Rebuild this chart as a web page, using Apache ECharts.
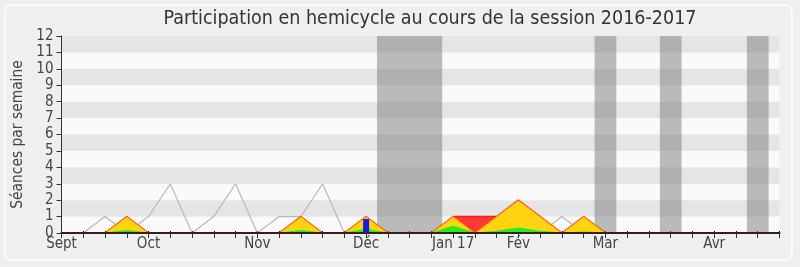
<!DOCTYPE html>
<html><head><meta charset="utf-8">
<script src="https://cdn.jsdelivr.net/npm/echarts@6/dist/echarts.min.js"></script>
<style>html,body{margin:0;padding:0;background:#efefef;}#c{width:800px;height:267px;}</style>
</head><body><div id="c"></div>
<script>
// weeks index 0..33 (Sept .. end of April)
const weeks = Array.from({length:34}, (_, i) => i);
const monthLabels = {0:'Sept',4:'Oct',9:'Nov',14:'Déc',18:'Jan 17',21:'Fév',25:'Mar',30:'Avr'};
const grayLine = [0,0,1,0,1,3,0,1,3,0,1,1,3,0,0,0,0,0,0,0,0,0,0,1,0,0,0,0,0,0,0,0,0,0];
const redArea  = [0,0,0,1,0,0,0,0,0,0,0,1,0,0,1,0,0,0,1,1,1,2,1,0,1,0,0,0,0,0,0,0,0,0];
const yellowArea=[0,0,0,1,0,0,0,0,0,0,0,1,0,0,1,0,0,0,1,0,1,2,1,0,1,0,0,0,0,0,0,0,0,0];
const greenArea= [0,0,0,0.15,0,0,0,0,0,0,0,0.15,0,0,0.22,0,0,0,0.4,0,0.1,0.3,0.1,0,0.05,0,0,0,0,0,0,0,0,0];
const blueBars = [[14,0.85]];
const vacations = [[14.5,17.5],[24.5,25.5],[27.5,28.5],[31.5,32.5]];

const pairs = arr => arr.map((v,i)=>[weeks[i],v]);
const FONT = 'DejaVu Sans Condensed, DejaVu Sans';
const chart = echarts.init(document.getElementById('c'), null, {renderer:'canvas'});
chart.setOption({
  animation:false,
  backgroundColor:'#efefef',
  graphic:[{type:'rect',shape:{x:5,y:5,width:787,height:255,r:7},style:{fill:'none',stroke:'#fbfbfb',lineWidth:2},z:-10}],
  title:{text:'Participation en hemicycle au cours de la session 2016-2017',left:425,top:4,textAlign:'center',
    textStyle:{fontFamily:FONT,fontSize:19.5,fontWeight:'normal',color:'#333'}},
  grid:{left:61.5,right:20.5,top:36,bottom:34},
  xAxis:[{type:'value',min:0,max:33,interval:1,z:10,
    axisLine:{show:true,onZero:false,lineStyle:{color:'#3a1c1c',width:2}},
    axisTick:{show:true,length:5,lineStyle:{color:'#333'}},
    axisLabel:{formatter:v=>monthLabels[v]||'',fontFamily:FONT,fontSize:15,color:'#444',margin:4},
    splitLine:{show:false}},
    {type:'value',position:'top',min:0,max:33,interval:1,axisLine:{show:false},
     axisTick:{show:true,length:2,lineStyle:{color:'#000'}},axisLabel:{show:false},splitLine:{show:false}}],
  yAxis:{type:'value',min:0,max:12,interval:1,name:'Séances par semaine',nameLocation:'middle',nameGap:36,
    nameTextStyle:{fontFamily:FONT,fontSize:15.4,color:'#444'},
    axisLine:{show:true,lineStyle:{color:'#333'}},
    axisTick:{show:true,length:5,lineStyle:{color:'#333'}},
    axisLabel:{fontFamily:FONT,fontSize:15,color:'#444',margin:8},
    splitLine:{show:false},
    splitArea:{show:true,areaStyle:{color:['#fafafa','#e5e5e5']}}},
  series:[
    {type:'line',data:[],z:1,silent:true,markArea:{silent:true,itemStyle:{color:'rgba(120,120,120,0.49)'},
      data:vacations.map(v=>[{xAxis:v[0],yAxis:0},{xAxis:v[1],yAxis:12}])}},
    {type:'line',data:pairs(grayLine),z:2,symbol:'none',lineStyle:{color:'#b8b8b8',width:1.2}},
    {type:'line',data:pairs(redArea),z:3,symbol:'none',lineStyle:{color:'#ff1a1a',width:1.5},areaStyle:{color:'#ff3838',opacity:1}},
    {type:'line',data:pairs(yellowArea),z:4,symbol:'none',lineStyle:{color:'#ff7a00',width:1},areaStyle:{color:'#ffd30f',opacity:1}},
    {type:'line',data:pairs(greenArea),z:5,symbol:'none',lineStyle:{color:'#22ee22',width:1.2},areaStyle:{color:'#22ee22',opacity:1}},
    {type:'bar',data:blueBars,z:6,barWidth:6,itemStyle:{color:'#1a1ae0'}}
  ]
});
</script></body></html>
